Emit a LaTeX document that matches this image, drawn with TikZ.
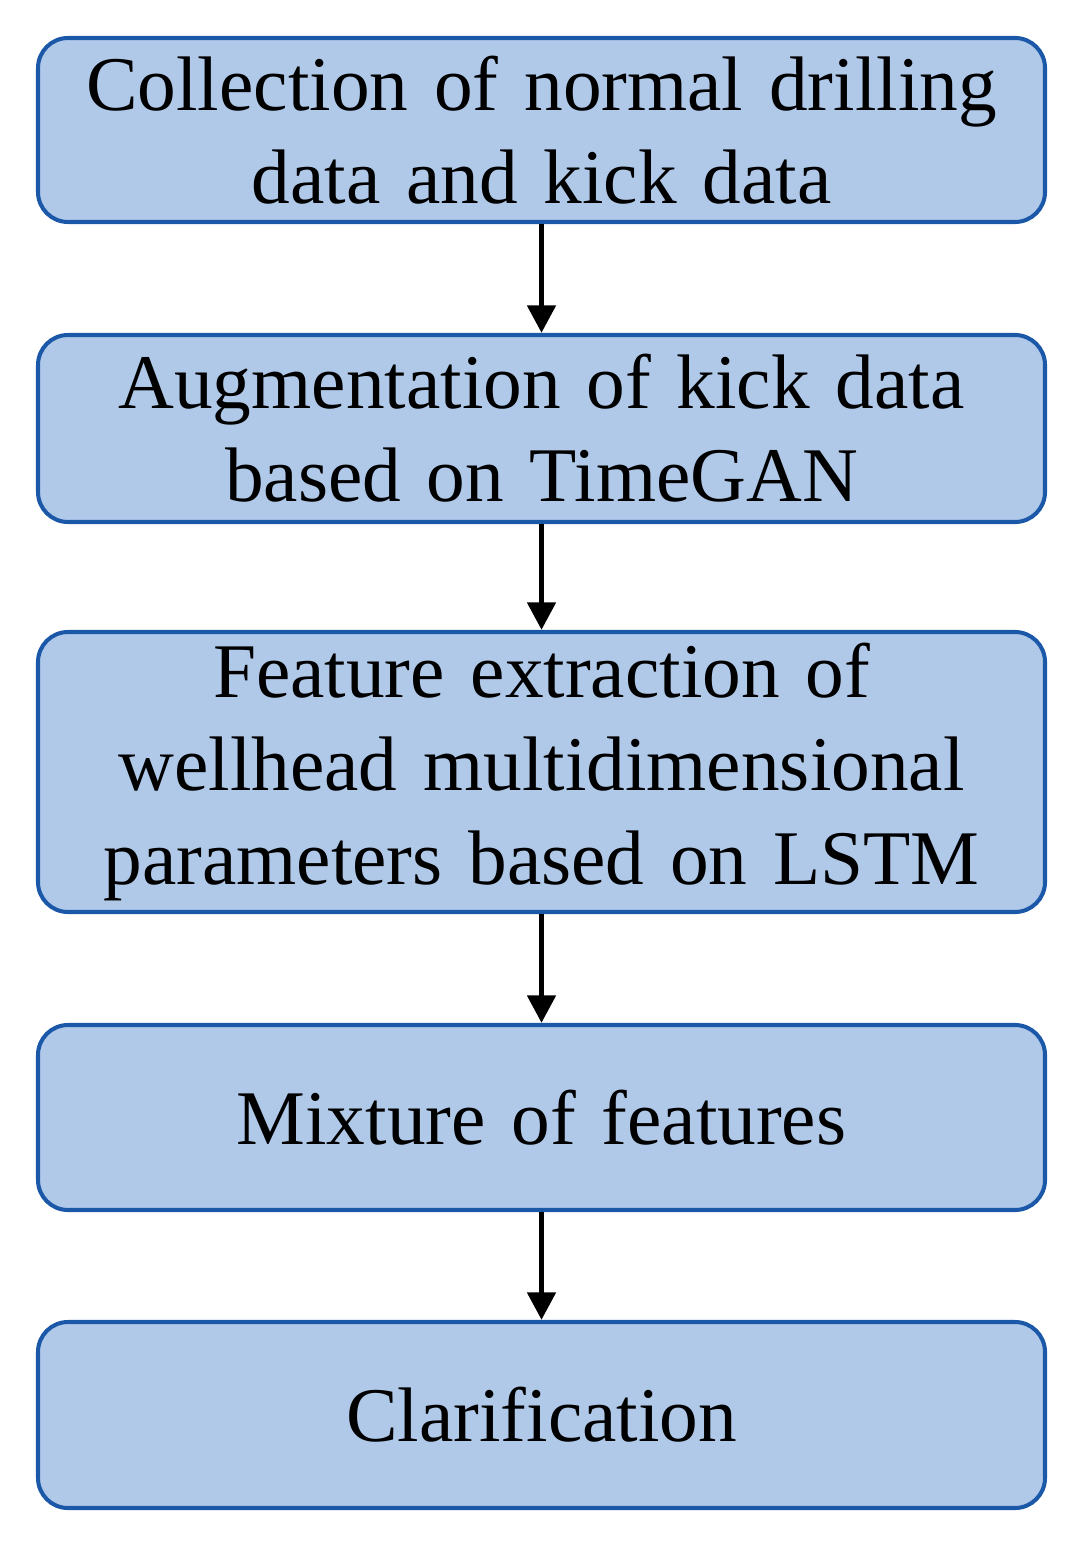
\documentclass[tikz,border=0pt]{standalone}
\usepackage{fontspec}
\setmainfont{Liberation Serif}
\usetikzlibrary{arrows.meta}
\definecolor{boxfill}{RGB}{176,201,233}
\definecolor{boxline}{RGB}{28,88,168}

\begin{document}
\begin{tikzpicture}[->, >={Triangle[length=0.55cm,width=0.55cm]}, line width=3.4pt,
  procbox/.style={draw=boxline, fill=boxfill, rounded corners=0.6cm, line width=2.3pt,
    minimum width=20.14cm, text width=19.4cm, align=center,
    font=\fontsize{44}{53}\selectfont}]
  \useasboundingbox (0,0) rectangle (21.5,-30.98);

  % process steps
  \node[procbox, minimum height=3.68cm] (collect) at (10.83,-2.6) {Collection of normal drilling\\data and kick data};
  \node[procbox, minimum height=3.74cm] (augment) at (10.83,-8.57) {Augmentation of kick data\\based on TimeGAN};
  \node[procbox, minimum height=5.6cm] (extract) at (10.83,-15.44) {Feature extraction of\\wellhead multidimensional\\parameters based on LSTM};
  \node[procbox, minimum height=3.7cm] (mix) at (10.83,-22.35) {Mixture of features};
  \node[procbox, minimum height=3.72cm] (clarify) at (10.83,-28.3) {Clarification};

  % flow
  \draw (collect) -- (augment);
  \draw (augment) -- (extract);
  \draw (extract) -- (mix);
  \draw (mix) -- (clarify);
\end{tikzpicture}
\end{document}
